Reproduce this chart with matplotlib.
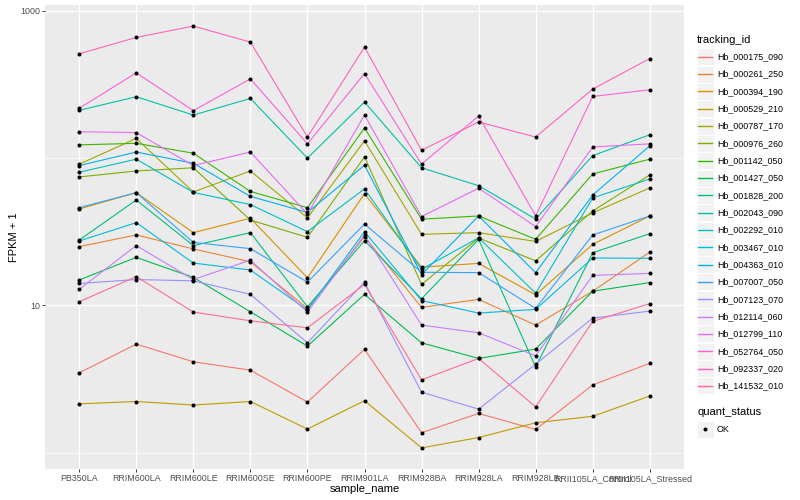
import numpy as np
import matplotlib
matplotlib.use('Agg')
import matplotlib.pyplot as plt
from matplotlib.patches import Rectangle
from matplotlib.lines import Line2D
from matplotlib.ticker import NullFormatter

plt.rcParams['font.family'] = ['Liberation Sans', 'DejaVu Sans']

# Samples on the x axis
samples = ['PB350LA', 'RRIM600LA', 'RRIM600LE', 'RRIM600SE', 'RRIM600PE', 'RRIM901LA',
           'RRIM928BA', 'RRIM928LA', 'RRIM928LB', 'RRII105LA_Control', 'RRII105LA_Stressed']

tracking_ids = ['Hb_000175_090', 'Hb_000261_250', 'Hb_000394_190', 'Hb_000529_210',
                'Hb_000787_170', 'Hb_000976_260', 'Hb_001142_050', 'Hb_001427_050',
                'Hb_001828_200', 'Hb_002043_090', 'Hb_002292_010', 'Hb_003467_010',
                'Hb_004363_010', 'Hb_007007_050', 'Hb_007123_070', 'Hb_012114_060',
                'Hb_012799_110', 'Hb_052764_050', 'Hb_092337_020', 'Hb_141532_010']

# ggplot hue palette, 20 levels
colors = ['#F8766D', '#EA8331', '#D89000', '#C09B00', '#A3A500', '#7CAE00', '#39B600',
          '#00BB4E', '#00BF7D', '#00C1A3', '#00BFC4', '#00BAE0', '#00B0F6', '#35A2FF',
          '#9590FF', '#C77CFF', '#E76BF3', '#FA62DB', '#FF62BC', '#FF6C91']

# FPKM + 1 per sample
hb_000175_090 = [3.49, 5.47, 4.15, 3.64, 2.21, 5.04, 1.37, 1.85, 1.44, 2.89, 4.05]
hb_000261_250 = [25.1, 30.1, 24.2, 19.8, 9.53, 29.3, 9.71, 11.0, 7.36, 12.5, 23.0]
hb_000394_190 = [45.2, 58.3, 31.2, 39.1, 15.4, 57.4, 18.2, 19.3, 11.8, 26.0, 40.5]
hb_000529_210 = [2.15, 2.23, 2.11, 2.23, 1.45, 2.26, 1.08, 1.27, 1.60, 1.77, 2.43]
hb_000787_170 = [91.0, 136, 58.9, 81.8, 39.3, 131, 30.4, 31.2, 27.2, 42.5, 62.8]
hb_000976_260 = [74.5, 81.8, 86.0, 38.0, 29.0, 102, 13.9, 28.7, 20.1, 43.8, 76.9]
hb_001142_050 = [123, 126, 108, 59.4, 46.1, 160, 38.5, 40.5, 28.1, 78.1, 98.4]
hb_001427_050 = [14.9, 21.2, 15.5, 9.06, 5.30, 11.9, 5.58, 4.37, 5.06, 12.5, 14.3]
hb_001828_200 = [27.8, 52.0, 25.5, 31.2, 9.80, 27.5, 11.1, 28.1, 3.82, 22.8, 30.7]
hb_002043_090 = [211, 261, 196, 254, 100, 240, 86.0, 65.0, 38.6, 104, 144]
hb_002292_010 = [80.2, 98.4, 58.5, 48.4, 31.7, 61.8, 17.6, 28.8, 12.1, 53.7, 72.2]
hb_003467_010 = [27.4, 36.5, 19.4, 17.4, 9.31, 31.7, 10.8, 8.88, 9.41, 21.0, 20.9]
hb_004363_010 = [89.0, 110, 92.3, 55.0, 42.8, 89.5, 16.2, 40.5, 16.7, 56.2, 121]
hb_007007_050 = [46.1, 58.3, 26.8, 24.3, 14.4, 35.7, 16.8, 16.7, 9.55, 30.1, 40.5]
hb_007123_070 = [14.1, 15.0, 14.7, 11.9, 5.58, 14.4, 2.58, 1.98, 4.00, 8.21, 9.16]
hb_012114_060 = [12.9, 25.5, 15.0, 20.3, 9.02, 30.1, 7.36, 6.53, 4.55, 16.0, 16.5]
hb_012799_110 = [151, 149, 89.0, 110, 41.8, 196, 40.1, 62.5, 34.3, 119, 125]
hb_052764_050 = [218, 379, 210, 345, 125, 375, 91.0, 193, 40.5, 262, 291]
hb_092337_020 = [511, 659, 787, 613, 139, 567, 113, 176, 139, 294, 474]
hb_141532_010 = [10.6, 15.7, 9.02, 7.87, 7.05, 13.9, 3.13, 4.37, 2.05, 7.80, 10.3]

series = [hb_000175_090, hb_000261_250, hb_000394_190, hb_000529_210, hb_000787_170,
          hb_000976_260, hb_001142_050, hb_001427_050, hb_001828_200, hb_002043_090,
          hb_002292_010, hb_003467_010, hb_004363_010, hb_007007_050, hb_007123_070,
          hb_012114_060, hb_012799_110, hb_052764_050, hb_092337_020, hb_141532_010]

W, H = 800, 500
fig = plt.figure(figsize=(W / 100, H / 100), dpi=100)
ax = fig.add_axes([45 / W, 1 - 469 / H, 639 / W, 464 / H])
ax.set_facecolor('#EBEBEB')
for s in ax.spines.values():
    s.set_visible(False)

x = np.arange(len(samples))
for vals, c in zip(series, colors):
    ax.plot(x, vals, color=c, lw=0.8, zorder=2)
for vals in series:
    ax.plot(x, vals, 'o', color='black', ms=2.9, mew=0, zorder=3)

ax.set_yscale('log')
logs = np.log10(np.concatenate([np.array(v, dtype=float) for v in series]))
pad = 0.05 * (logs.max() - logs.min())
ax.set_ylim(10 ** (logs.min() - pad), 10 ** (logs.max() + pad))
ax.set_xlim(-0.6, len(samples) - 0.4)

ax.set_yticks([10, 1000])
ax.set_yticklabels(['10', '1000'])
ax.set_yticks([1, 100], minor=True)
ax.yaxis.set_minor_formatter(NullFormatter())
ax.set_xticks(x)
ax.set_xticklabels(samples)
ax.tick_params(which='major', length=2, width=0.7, color='#333333',
               labelsize=6.4, labelcolor='#4D4D4D', pad=1.5)
ax.tick_params(which='minor', length=0)
ax.grid(which='major', color='white', lw=1.0)
ax.grid(which='minor', axis='y', color='white', lw=0.5)
ax.set_axisbelow(True)

ax.set_xlabel('sample_name', fontsize=8, labelpad=1)
ax.set_ylabel('FPKM + 1', fontsize=8, labelpad=1)

# legend drawn in pixel coordinates
def fx(px):
    return px / W

def fy(py):
    return 1 - py / H

fig.text(fx(697), fy(40), 'tracking_id', fontsize=8, va='center', ha='left')
for i, (tid, c) in enumerate(zip(tracking_ids, colors)):
    yc = 56.7 + 17.33 * i
    fig.add_artist(Rectangle((fx(696.5), fy(yc + 8.5)), 17 / W, 17 / H,
                             transform=fig.transFigure, facecolor='#F2F2F2',
                             edgecolor='white', lw=0.7, zorder=1))
    fig.add_artist(Line2D([fx(698), fx(712)], [fy(yc), fy(yc)],
                          transform=fig.transFigure, color=c, lw=1.0, zorder=5))
    fig.text(fx(717), fy(yc), tid, fontsize=6.4, va='center', ha='left')

fig.text(fx(697), fy(412), 'quant_status', fontsize=8, va='center', ha='left')
fig.add_artist(Rectangle((fx(696.5), fy(429 + 8.5)), 17 / W, 17 / H,
                         transform=fig.transFigure, facecolor='#F2F2F2',
                         edgecolor='white', lw=0.7, zorder=1))
fig.add_artist(Line2D([fx(705)], [fy(429)], transform=fig.transFigure,
                      marker='o', color='black', ms=2.9, mew=0, zorder=5))
fig.text(fx(717), fy(429), 'OK', fontsize=6.4, va='center', ha='left')

fig.savefig('out.png', dpi=100)
